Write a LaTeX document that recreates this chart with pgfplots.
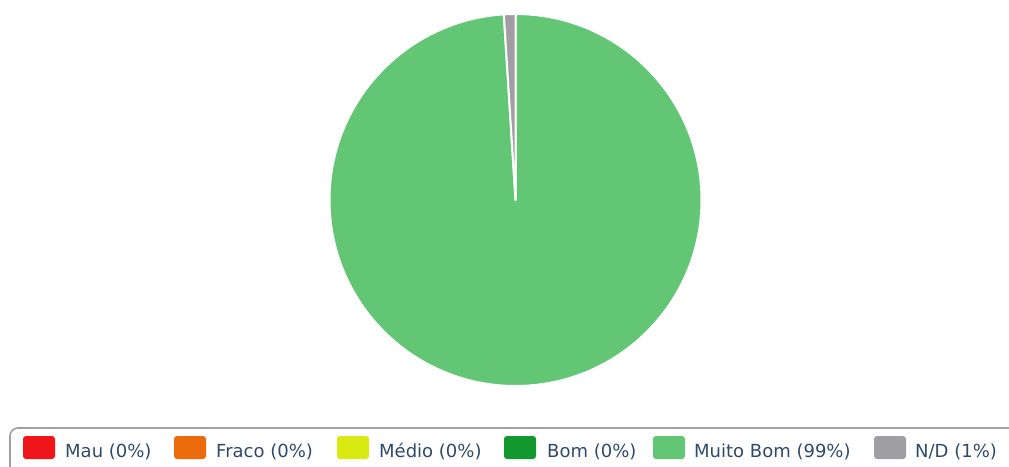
\documentclass[border=0pt]{standalone}
\usepackage{pgfplots}
\usepackage{pgfplotstable}
\pgfplotsset{compat=1.18}
\usepackage{fontspec}
\setmainfont{DejaVu Sans}
\definecolor{cMau}{HTML}{F0151A}
\definecolor{cFraco}{HTML}{EC6C0D}
\definecolor{cMedio}{HTML}{D9EA12}
\definecolor{cBom}{HTML}{12982E}
\definecolor{cMuito}{HTML}{62C674}
\definecolor{cND}{HTML}{9E9EA3}
\definecolor{ltext}{HTML}{2E4A6A}
\definecolor{lborder}{HTML}{A0A0A0}
\pgfplotstableread[col sep=comma]{
label,pct,col,sx,tx
Mau,0,cMau,23,65
Fraco,0,cFraco,174,216
Médio,0,cMedio,337,379
Bom,0,cBom,504,547
Muito Bom,99,cMuito,653,694
N/D,1,cND,874,915
}\piedata
\begin{document}
\begin{tikzpicture}
\begin{axis}[
  width=1009pt, height=466pt, scale only axis,
  xmin=0, xmax=1009, ymin=0, ymax=466,
  hide axis, clip=false,
]
\pgfmathsetmacro\cur{90}
\pgfplotsforeachungrouped \i in {0,...,5}{%
  \pgfplotstablegetelem{\i}{pct}\of\piedata \let\p=\pgfplotsretval
  \pgfplotstablegetelem{\i}{col}\of\piedata \let\c=\pgfplotsretval
  \pgfmathsetmacro\nxt{\cur-3.6*\p}%
  \ifdim\p pt>0pt
    \edef\temp{\noexpand\filldraw[fill=\c, draw=white, line width=2pt, line join=round] (axis cs:515.5,266) -- ++(\cur:186pt) arc[start angle=\cur, end angle=\nxt, radius=186pt] -- cycle;}%
    \temp
  \fi
  \let\cur=\nxt
}
% legend
\draw[lborder, line width=1.6pt, rounded corners=8pt] (axis cs:1030,38) -- (axis cs:10,38) -- (axis cs:10,-20);
\pgfplotsforeachungrouped \i in {0,...,5}{%
  \pgfplotstablegetelem{\i}{pct}\of\piedata \let\p=\pgfplotsretval
  \pgfplotstablegetelem{\i}{col}\of\piedata \let\c=\pgfplotsretval
  \pgfplotstablegetelem{\i}{label}\of\piedata \let\l=\pgfplotsretval
  \pgfplotstablegetelem{\i}{sx}\of\piedata \let\sx=\pgfplotsretval
  \pgfplotstablegetelem{\i}{tx}\of\piedata \let\tx=\pgfplotsretval
  \pgfmathsetmacro\sxe{\sx+32}%
  \edef\temp{\noexpand\fill[\c, rounded corners=3pt] (axis cs:\sx,7) rectangle (axis cs:\sxe,30);
    \noexpand\node[anchor=base west, inner sep=0pt, text=ltext, font=\noexpand\fontsize{18}{20}\noexpand\selectfont] at (axis cs:\tx,9) {\l\space(\p\noexpand\%)};}%
  \temp
}
\end{axis}
\pgfresetboundingbox
\path[use as bounding box] (0,0) rectangle (1009pt,466pt);
\end{tikzpicture}
\end{document}
